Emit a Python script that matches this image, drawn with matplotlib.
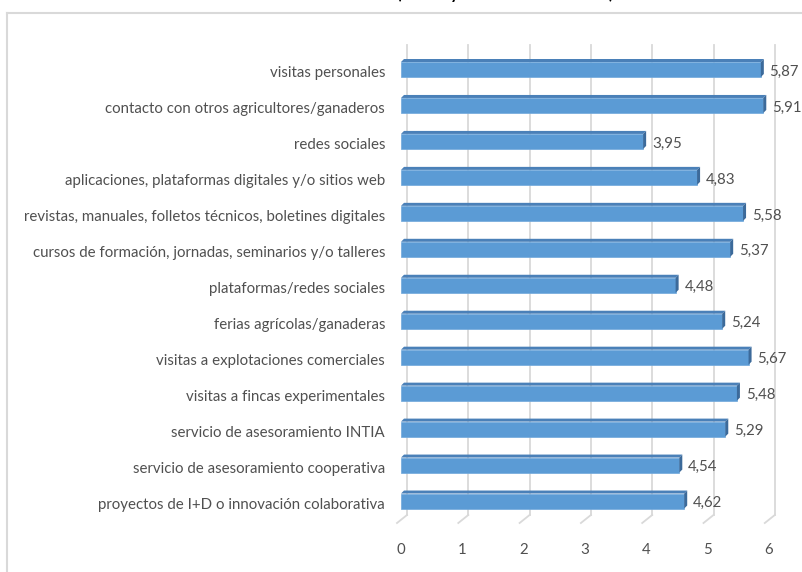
import matplotlib
matplotlib.use("Agg")
import matplotlib.pyplot as plt
from matplotlib.patches import Polygon
from matplotlib.lines import Line2D
import numpy as np

categories = [
    "visitas personales",
    "contacto con otros agricultores/ganaderos",
    "redes sociales",
    "aplicaciones, plataformas digitales y/o sitios web",
    "revistas, manuales, folletos técnicos, boletines digitales",
    "cursos de formación, jornadas, seminarios y/o talleres",
    "plataformas/redes sociales",
    "ferias agrícolas/ganaderas",
    "visitas a explotaciones comerciales",
    "visitas a fincas experimentales",
    "servicio de asesoramiento INTIA",
    "servicio de asesoramiento cooperativa",
    "proyectos de I+D o innovación colaborativa",
]
values = [5.87, 5.91, 3.95, 4.83, 5.58, 5.37, 4.48, 5.24, 5.67, 5.48, 5.29, 4.54, 4.62]
value_labels = ["5,87", "5,91", "3,95", "4,83", "5,58", "5,37", "4,48", "5,24", "5,67", "5,48", "5,29", "4,54", "4,62"]
xticks = [0, 1, 2, 3, 4, 5, 6]
title_text = "(media y desviación estándar)"

FONT = ["Lato", "DejaVu Sans"]
plt.rcParams["font.family"] = FONT
FS = 10.85
TXT_C = "#505050"

W, H = 802, 572
fig = plt.figure(figsize=(W / 100, H / 100), dpi=100)

# pixel geometry of the plot area
px_per_unit = 61.3
x0_px = 401
c0_px, step_px = 69.5, 35.96
top_px, bot_px = 40, 525
ax_left = x0_px / W
ax_width = 6 * px_per_unit / W
ax_bottom = 1 - bot_px / H
ax_height = (bot_px - top_px) / H
ax = fig.add_axes([ax_left, ax_bottom, ax_width, ax_height])
ylo = (top_px - c0_px) / step_px
yhi = (bot_px - c0_px) / step_px
ax.set_xlim(0, 6)
ax.set_ylim(yhi, ylo)
for s in ax.spines.values():
    s.set_visible(False)

ux = 1 / px_per_unit   # data units per pixel (x)
uy = 1 / step_px       # data units per pixel (y)

# back wall gridlines and floor diagonals
grid_c = "#d9d9d9"
g_top = (45 - c0_px) * uy
g_bot = (515 - c0_px) * uy
f_bot = (523 - c0_px) * uy
for k in xticks:
    ax.plot([k + 6 * ux, k + 6 * ux], [g_top, g_bot], color=grid_c, lw=1.3, zorder=1, clip_on=False)
    ax.plot([k - 4 * ux, k + 6 * ux], [f_bot, g_bot], color=grid_c, lw=1.3, zorder=1, clip_on=False)

# 3D bars
ypos = np.arange(len(categories))
bh = 15 * uy
dx, dy = 3 * ux, 3 * uy
front_c, top_c, side_c = "#5b9bd5", "#4a80b8", "#3c6a9a"
ax.barh(ypos, values, height=bh, color=front_c, edgecolor="#6fa8dc", linewidth=0.5, zorder=3)
for y, v in zip(ypos, values):
    t = y - bh / 2
    b = y + bh / 2
    ax.add_patch(Polygon([(0, t), (v, t), (v + dx, t - dy), (dx, t - dy)],
                         closed=True, facecolor=top_c, edgecolor="none", zorder=3))
    ax.add_patch(Polygon([(v, t), (v + dx, t - dy), (v + dx, b - dy), (v, b)],
                         closed=True, facecolor=side_c, edgecolor="none", zorder=3))

# value labels
for y, v, lab in zip(ypos, values, value_labels):
    ax.annotate(lab, xy=(v, y), xytext=(6.3, -1.5), textcoords="offset points",
                ha="left", va="center", fontsize=FS, color=TXT_C, family=FONT)

# category labels
ax.set_yticks([])
for y, lab in zip(ypos, categories):
    ax.annotate(lab, xy=(0, y), xycoords=("axes fraction", "data"),
                xytext=(-11.5, -2.6), textcoords="offset points",
                ha="right", va="center", fontsize=FS, color=TXT_C, family=FONT,
                annotation_clip=False)

# x axis ticks
ax.set_xticks(xticks)
ax.set_xticklabels([str(k) for k in xticks], fontsize=FS, color=TXT_C, family=FONT)
ax.tick_params(axis="x", length=0, pad=13)

# chart border (left and top edges visible)
fig.add_artist(Line2D([7 / W, 7 / W], [0, 1 - 13 / H], transform=fig.transFigure, color="#d9d9d9", lw=1.5))
fig.add_artist(Line2D([7 / W, 1], [1 - 13 / H, 1 - 13 / H], transform=fig.transFigure, color="#d9d9d9", lw=1.5))

# cut-off title at the very top
fig.text(0.5 * (398 + 613) / W, 1 + 1.5 / H, title_text, ha="center", va="baseline",
         fontsize=12, fontweight="bold", color="#000000", family=FONT)

fig.savefig("out.png", dpi=100)
